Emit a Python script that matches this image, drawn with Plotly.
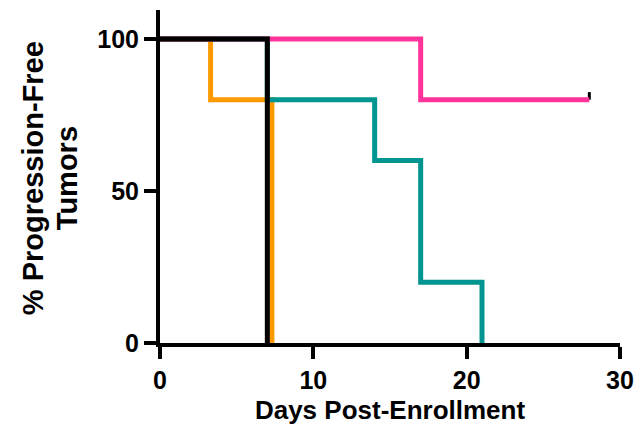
import plotly.graph_objects as go

# Kaplan-Meier step data (days, % progression-free)
pink_days = [0, 17, 17, 28]
pink_pct = [100, 100, 80, 80]
orange_days = [0, 3.3, 3.3, 7.3, 7.3]
orange_pct = [100, 100, 80, 80, 0]
teal_days = [0, 7, 7, 14, 14, 17, 17, 21, 21]
teal_pct = [100, 100, 80, 80, 60, 60, 20, 20, 0]
black_days = [0, 7, 7]
black_pct = [100, 100, 0]
censor_day = [28, 28]
censor_pct = [80, 82.5]

x_ticks = [0, 10, 20, 30]
y_ticks = [0, 50, 100]

PINK = "#FF3399"
ORANGE = "#FF9900"
TEAL = "#009590"
BLACK = "#000000"
LW = 5

fig = go.Figure()
fig.add_trace(go.Scatter(x=censor_day, y=censor_pct, mode="lines",
                         line=dict(color=BLACK, width=3), cliponaxis=False))
fig.add_trace(go.Scatter(x=orange_days, y=orange_pct, mode="lines",
                         line=dict(color=ORANGE, width=LW), cliponaxis=False))
fig.add_trace(go.Scatter(x=teal_days, y=teal_pct, mode="lines",
                         line=dict(color=TEAL, width=LW), cliponaxis=False))
fig.add_trace(go.Scatter(x=pink_days, y=pink_pct, mode="lines",
                         line=dict(color=PINK, width=LW), cliponaxis=False))
fig.add_trace(go.Scatter(x=black_days, y=black_pct, mode="lines",
                         line=dict(color=BLACK, width=LW), cliponaxis=False))

FAM = "Liberation Sans, Arial, sans-serif"
fig.update_layout(
    width=634, height=421,
    margin=dict(l=152, r=22, t=2, b=86),
    plot_bgcolor="white", paper_bgcolor="white",
    showlegend=False,
    font=dict(family=FAM, color="black"),
)
tickfont = dict(size=25, family=FAM, color="black", weight="bold")
fig.update_xaxes(
    range=[0, 30], tickvals=x_ticks, ticktext=[str(v) for v in x_ticks],
    showgrid=False, zeroline=False, showline=True, linecolor="black", linewidth=4,
    ticks="outside", ticklen=12, tickwidth=4, tickcolor="black",
    tickfont=tickfont,
    title=dict(text="<b>Days Post-Enrollment</b>", font=dict(size=26, family=FAM), standoff=9),
)
fig.update_yaxes(
    range=[0, 109.5], tickvals=y_ticks, ticktext=[str(v) for v in y_ticks],
    showgrid=False, zeroline=False, showline=True, linecolor="black", linewidth=4,
    ticks="outside", ticklen=12, tickwidth=4, tickcolor="black",
    tickfont=tickfont,
)
# two-line y-axis title
fig.add_annotation(text="<b>% Progression-Free</b>", xref="paper", yref="paper",
                   x=0, y=0.495, xanchor="center", yanchor="middle", xshift=-127,
                   textangle=-90, showarrow=False, font=dict(size=29, family=FAM, color="black"))
fig.add_annotation(text="<b>Tumors</b>", xref="paper", yref="paper",
                   x=0, y=0.495, xanchor="center", yanchor="middle", xshift=-93,
                   textangle=-90, showarrow=False, font=dict(size=29, family=FAM, color="black"))

fig.write_html("out.html")
